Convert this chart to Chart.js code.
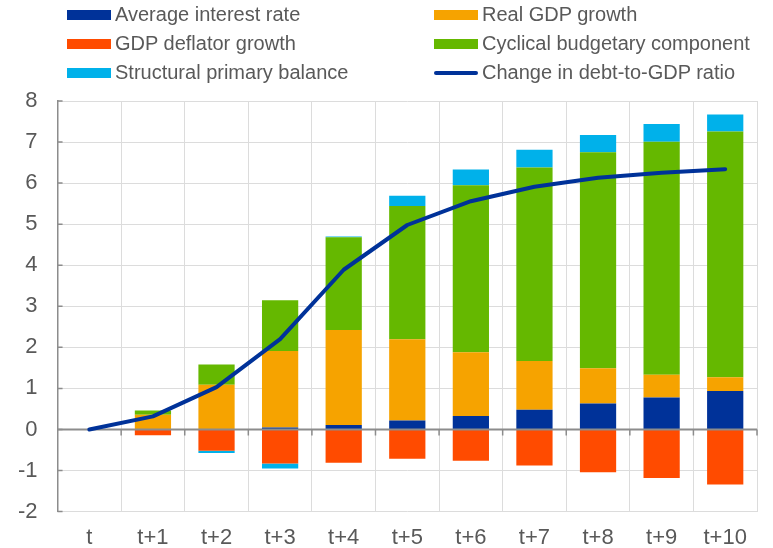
<!DOCTYPE html>
<html>
<head>
    <meta charset="UTF-8">
    <title>Debt dynamics</title>
    <script src="https://cdn.jsdelivr.net/npm/chart.js@4"></script>
    <style>
        body { margin: 0; background: #fff; overflow: hidden; }
        #wrap { position: relative; width: 773px; height: 548px; }
        #legend { position: absolute; left: 0; top: 0; width: 773px; font-family: "Liberation Sans", Arial, sans-serif; font-size: 20px; color: #595959; }
        .item { position: absolute; height: 29px; line-height: 29px; white-space: nowrap; }
        .sw { display: inline-block; width: 44px; height: 10px; vertical-align: middle; margin-right: 4px; position: relative; top: -1px; }
        .ln { height: 4px; border-radius: 2px; }
    </style>
</head>
<body>
<div id="wrap">
    <canvas id="myChart" width="773" height="548"></canvas>
    <div id="legend"></div>
</div>
<script>
    var labels = ['t', 't+1', 't+2', 't+3', 't+4', 't+5', 't+6', 't+7', 't+8', 't+9', 't+10'];

    var interestRate = [0, 0, 0, 0.05, 0.11, 0.22, 0.33, 0.48, 0.63, 0.78, 0.94];
    var realGdp      = [0, 0.36, 1.09, 1.86, 2.31, 1.98, 1.55, 1.19, 0.86, 0.55, 0.33];
    var deflator     = [0, -0.14, -0.52, -0.83, -0.81, -0.71, -0.76, -0.88, -1.04, -1.18, -1.34];
    var cyclical     = [0, 0.10, 0.49, 1.24, 2.26, 3.24, 4.07, 4.71, 5.26, 5.68, 5.99];
    var structural   = [0, 0, -0.05, -0.12, 0.02, 0.25, 0.38, 0.43, 0.42, 0.43, 0.41];
    var debtChange   = [0, 0.32, 1.03, 2.2, 3.89, 4.98, 5.56, 5.91, 6.13, 6.25, 6.34];

    var BLUE = '#003299', ORANGE = '#F6A300', RED = '#FF4B00', GREEN = '#65B800', CYAN = '#00B1EA';
    var GRID = '#dcdcdc', AXIS = '#8c8c8c', TEXT = '#595959';
    var FONT = '"Liberation Sans", Arial, sans-serif';

    function bar(label, data, color) {
        return { type: 'bar', label: label, data: data, backgroundColor: color, stack: 'a', order: 1,
                 categoryPercentage: 1, barPercentage: 0.57 };
    }

    // zero line + small inward tick marks, drawn over the bars but under the line
    var axisPlugin = {
        id: 'axisTicks',
        beforeDatasetDraw: function (chart, args) {
            if (args.meta.type !== 'line') return;
            var ctx = chart.ctx, x = chart.scales.x, y = chart.scales.y;
            var y0 = y.getPixelForValue(0);
            ctx.save();
            ctx.strokeStyle = AXIS;
            ctx.lineWidth = 2;
            ctx.beginPath();
            ctx.moveTo(chart.chartArea.left, y0);
            ctx.lineTo(chart.chartArea.right, y0);
            ctx.stroke();
            ctx.lineWidth = 1.5;
            ctx.beginPath();
            for (var i = 1; i <= labels.length; i++) {
                var px = x.getPixelForValue(i - 0.5);
                ctx.moveTo(px, y0);
                ctx.lineTo(px, y0 + 6);
            }
            for (var v = y.min; v <= y.max; v++) {
                var py = y.getPixelForValue(v);
                ctx.moveTo(chart.chartArea.left, py);
                ctx.lineTo(chart.chartArea.left + 5, py);
            }
            ctx.stroke();
            ctx.restore();
        }
    };

    var config = {
        data: {
            labels: labels,
            datasets: [
                bar('Average interest rate', interestRate, BLUE),
                bar('Real GDP growth', realGdp, ORANGE),
                bar('GDP deflator growth', deflator, RED),
                bar('Cyclical budgetary component', cyclical, GREEN),
                bar('Structural primary balance', structural, CYAN),
                { type: 'line', label: 'Change in debt-to-GDP ratio', data: debtChange, stack: 'line', order: 0,
                  borderColor: BLUE, borderWidth: 4, pointRadius: 0, tension: 0, fill: false,
                  borderCapStyle: 'round', borderJoinStyle: 'round' }
            ]
        },
        options: {
            responsive: false,
            animation: false,
            layout: { padding: { top: 101, left: -2, right: 16, bottom: -16 } },
            plugins: { legend: { display: false }, tooltip: { enabled: false } },
            scales: {
                x: {
                    stacked: true,
                    offset: true,
                    border: { display: false },
                    grid: { offset: true, color: GRID, lineWidth: 1, drawTicks: false },
                    ticks: { color: TEXT, font: { family: FONT, size: 22 }, padding: 13 }
                },
                y: {
                    stacked: true,
                    min: -2,
                    max: 8,
                    border: { display: true, color: AXIS, width: 1.5 },
                    grid: { color: GRID, lineWidth: 1, drawTicks: false },
                    ticks: { stepSize: 1, color: TEXT, font: { family: FONT, size: 22 }, padding: 20 }
                }
            }
        },
        plugins: [axisPlugin]
    };

    var myChart = new Chart(document.getElementById('myChart'), config);

    // two-column legend, same order as the original
    var legendItems = [
        ['Average interest rate', BLUE, false, 67, 0],
        ['Real GDP growth', ORANGE, false, 434, 0],
        ['GDP deflator growth', RED, false, 67, 29],
        ['Cyclical budgetary component', GREEN, false, 434, 29],
        ['Structural primary balance', CYAN, false, 67, 58],
        ['Change in debt-to-GDP ratio', BLUE, true, 434, 58]
    ];
    var legend = document.getElementById('legend');
    legendItems.forEach(function (it) {
        var d = document.createElement('div');
        d.className = 'item';
        d.style.left = it[3] + 'px';
        d.style.top = it[4] + 'px';
        d.innerHTML = '<span class="sw' + (it[2] ? ' ln' : '') + '" style="background:' + it[1] + '"></span>' + it[0];
        legend.appendChild(d);
    });
</script>
</body>
</html>
